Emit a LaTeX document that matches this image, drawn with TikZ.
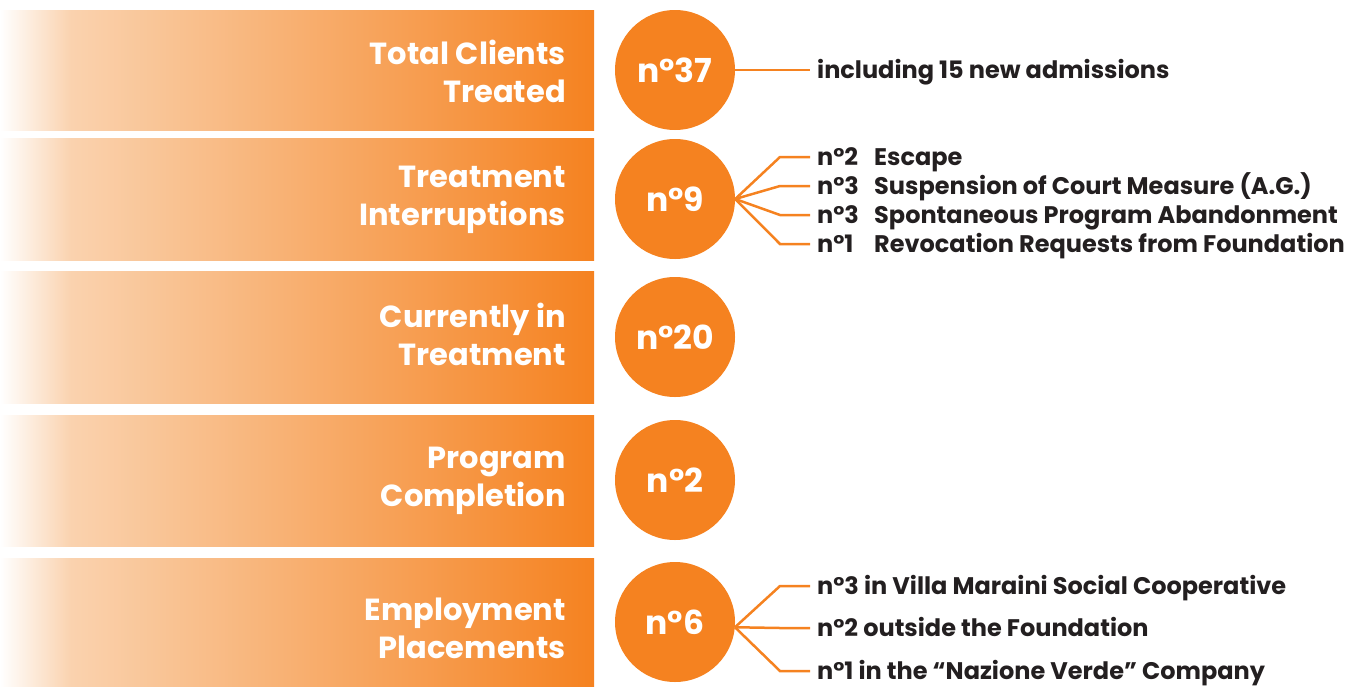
\documentclass[tikz,border=0pt]{standalone}
\usepackage{fontspec}
\setmainfont{Poppins}
\usepackage{xcolor}

\definecolor{bandorange}{HTML}{F58220}
\definecolor{bandpeach}{HTML}{FAD2AE}
\definecolor{itemdark}{HTML}{231F20}

% white on the left, orange on the right
\pgfdeclarehorizontalshading{bandfade}{100bp}{color(0bp)=(white); color(25bp)=(white); color(31bp)=(bandpeach); color(75bp)=(bandorange); color(100bp)=(bandorange)}

\tikzset{
  bandlabel/.style={anchor=east, align=right, text=white, inner sep=0pt,
    font=\bfseries\fontsize{30.5}{38}\selectfont},
  numcircle/.style={circle, fill=bandorange, minimum size=120pt, inner sep=0pt,
    text=white, font=\bfseries\fontsize{33}{36}\selectfont},
  item/.style={anchor=west, inner xsep=7pt, inner ysep=0pt, text=itemdark,
    text height=17pt, text depth=0pt,
    font=\bfseries\fontsize{24}{26}\selectfont},
  branch/.style={draw=bandorange, line width=2.5pt}
}
\newcommand{\numtag}[1]{\makebox[57pt][l]{#1}}

\begin{document}
\begin{tikzpicture}[x=1pt, y=-1pt]
    \useasboundingbox (0,0) rectangle (1352,686);
    % the five bands
    \foreach \top/\bot in {10/130, 138/260, 271/403, 415/546, 558/686}
      \shade[shading=bandfade] (0,\top) rectangle (594,\bot);

    \node[bandlabel] (lab1) at (566,71) {Total Clients\\Treated};
    \node[bandlabel] (lab2) at (566,200) {Treatment\\Interruptions};
    \node[bandlabel] (lab3) at (566,334) {Currently in\\Treatment};
    \node[bandlabel] (lab4) at (566,481) {Program\\Completion};
    \node[bandlabel] (lab5) at (566,628) {Employment\\Placements};

    \node[numcircle] (c1) at (675,70) {n°37};
    \node[numcircle] (c2) at (675,199) {n°9};
    \node[numcircle] (c3) at (675,337) {n°20};
    \node[numcircle] (c4) at (675,480) {n°2};
    \node[numcircle] (c5) at (675,622) {n°6};

    % details on the right
    \node[item] (d1) at (810,70) {including 15 new admissions};

    \node[item] (d21) at (810,157) {\numtag{n°2}Escape};
    \node[item] (d22) at (810,186) {\numtag{n°3}Suspension of Court Measure (A.G.)};
    \node[item] (d23) at (810,215) {\numtag{n°3}Spontaneous Program Abandonment};
    \node[item] (d24) at (810,244) {\numtag{n°1}Revocation Requests from Foundation};

    \node[item] (d51) at (810,586) {n°3 in Villa Maraini Social Cooperative};
    \node[item] (d52) at (810,628) {n°2 outside the Foundation};
    \node[item] (d53) at (810,671) {n°1 in the “Nazione Verde” Company};

    \draw[branch] (c1.east) -- (d1.west);
    \foreach \d in {d21,d22,d23,d24}
      \draw[branch] (c2.east) -- ([xshift=-30pt]\d.west) -- (\d.west);
    \foreach \d in {d51,d52,d53}
      \draw[branch] (c5.-5) -- ([xshift=-30pt]\d.west) -- (\d.west);
  \end{tikzpicture}
\end{document}
